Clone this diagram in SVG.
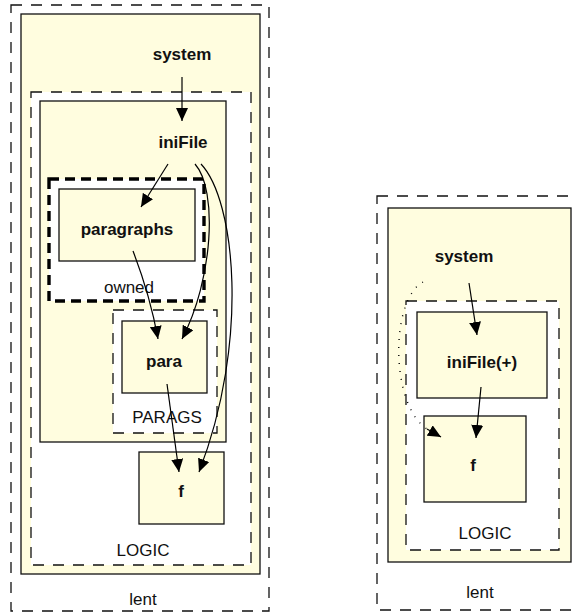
<svg xmlns="http://www.w3.org/2000/svg" width="574" height="614" viewBox="0 0 574 614">
<defs>
<style>
.bg{fill:#ffffff}
.pkg{fill:none;stroke:#111;stroke-width:1.3;stroke-dasharray:11,9}
.pkgw{fill:#ffffff;stroke:#111;stroke-width:1.3;stroke-dasharray:11,9}
.own{fill:#ffffff;stroke:#000;stroke-width:3.4;stroke-dasharray:10,6}
.box{fill:#fffddf;stroke:#111;stroke-width:1.3}
.lbl{font-family:"Liberation Sans",Arial,sans-serif;font-size:17px;font-weight:bold;fill:#111;text-anchor:middle}
.cap{font-family:"Liberation Sans",Arial,sans-serif;font-size:17px;fill:#111;text-anchor:middle}
.edge{fill:none;stroke:#000;stroke-width:1.2}
.dot{fill:none;stroke:#000;stroke-width:1.4;stroke-dasharray:1,7}
</style>
<marker id="ah" viewBox="0 0 13 12" refX="13" refY="6" markerWidth="13" markerHeight="12" markerUnits="userSpaceOnUse" orient="auto">
<path d="M0,0 L13,6 L0,12 z" fill="#000"/>
</marker>
</defs>
<rect class="bg" x="0" y="0" width="574" height="614"/>

<g id="lent-left">
<rect class="pkg" x="11" y="5" width="258" height="606"/>
<text class="cap" x="143" y="605">lent</text>
</g>
<g id="system-left">
<rect class="box" x="21" y="14" width="239" height="560"/>
<text class="lbl" x="182" y="60">system</text>
</g>
<g id="logic-left">
<rect class="pkgw" x="31" y="92" width="220" height="473"/>
<text class="cap" x="143" y="556">LOGIC</text>
</g>
<g id="iniFile-left">
<rect class="box" x="40" y="101" width="186" height="341"/>
<text class="lbl" x="183" y="148">iniFile</text>
</g>
<g id="owned">
<rect class="own" x="49" y="179" width="155" height="122"/>
<text class="cap" x="129" y="293">owned</text>
</g>
<g id="paragraphs">
<rect class="box" x="59" y="189" width="136" height="72"/>
<text class="lbl" x="127" y="235">paragraphs</text>
</g>
<g id="parags">
<rect class="pkgw" x="113" y="310" width="104" height="123"/>
<text class="cap" x="167" y="423">PARAGS</text>
</g>
<g id="para">
<rect class="box" x="122" y="321" width="85" height="72"/>
<text class="lbl" x="164" y="367">para</text>
</g>
<g id="f-left">
<rect class="box" x="139" y="452" width="85" height="72"/>
<text class="lbl" x="181" y="497">f</text>
</g>

<g id="lent-right">
<rect class="pkg" x="377" y="196" width="210" height="414"/>
<text class="cap" x="480" y="598">lent</text>
</g>
<g id="system-right">
<rect class="box" x="388" y="208" width="183" height="354"/>
<text class="lbl" x="464" y="262">system</text>
</g>
<g id="logic-right">
<rect class="pkgw" x="406" y="301" width="153" height="249"/>
<text class="cap" x="485" y="539">LOGIC</text>
</g>
<g id="iniFile-right">
<rect class="box" x="417" y="312" width="130" height="86"/>
<text class="lbl" x="482" y="368">iniFile(+)</text>
</g>
<g id="f-right">
<rect class="box" x="424" y="416" width="102" height="86"/>
<text class="lbl" x="473" y="471">f</text>
</g>

<g id="connectors">
<path class="edge" d="M182,77 L182,121" marker-end="url(#ah)"/>
<path class="edge" d="M168,164 L141,207" marker-end="url(#ah)"/>
<path class="edge" d="M133,251 Q150,295 158,339" marker-end="url(#ah)"/>
<path class="edge" d="M195,164 C218,190 213,280 182,339" marker-end="url(#ah)"/>
<path class="edge" d="M201,164 C235,200 250,340 199,472" marker-end="url(#ah)"/>
<path class="edge" d="M167,384 L179,472" marker-end="url(#ah)"/>
<path class="edge" d="M469,283 L477,335" marker-end="url(#ah)"/>
<path class="edge" d="M481,387 L476,438" marker-end="url(#ah)"/>
<path class="dot" d="M423,282 C390,300 390,405 427,429"/>
<path class="edge" d="M427,429 L441,437" stroke="none" marker-end="url(#ah)"/>
</g>
</svg>
